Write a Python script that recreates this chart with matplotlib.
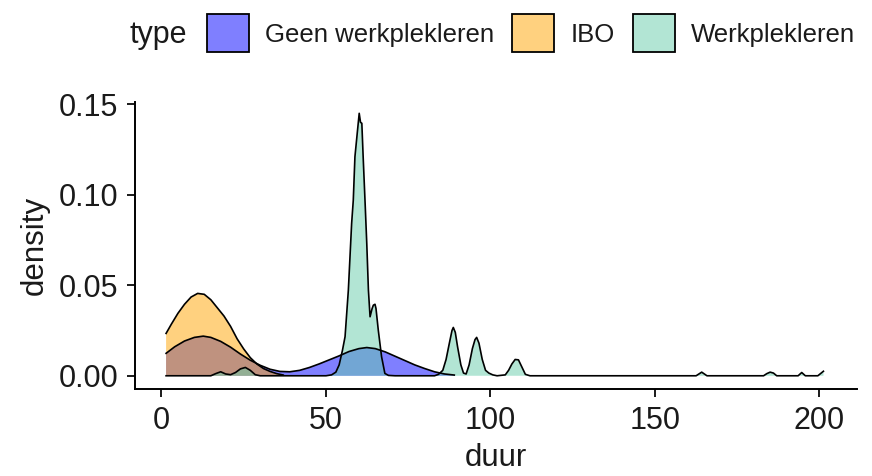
import numpy as np
import matplotlib
matplotlib.use("Agg")
import matplotlib.pyplot as plt
from matplotlib.patches import Patch

plt.rcParams['font.family'] = ['Liberation Sans', 'DejaVu Sans']

# Density curves (duur, density)
types = ['Geen werkplekleren', 'IBO', 'Werkplekleren']
fills = ['#0000FF', '#FFA500', '#66CDAA']

geen_x = [1.4, 4, 7, 10, 12.7, 15, 18, 21, 24, 27, 30, 33, 36, 39, 42, 45, 48,
          51, 54, 57, 60, 62.4, 65, 68, 71, 74, 77, 80, 83, 86, 89]
geen_y = [0.0124, 0.0160, 0.0192, 0.0212, 0.0219, 0.0212, 0.0190, 0.0158,
          0.0120, 0.0086, 0.0058, 0.0036, 0.0024, 0.0022, 0.0030, 0.0046,
          0.0066, 0.0088, 0.0110, 0.0134, 0.0150, 0.0156, 0.0150, 0.0132,
          0.0108, 0.0084, 0.0060, 0.0040, 0.0022, 0.0010, 0.0004]

ibo_x = [1.4, 3, 5, 7, 9, 11, 13, 15, 17, 19, 21, 23, 25, 27, 29, 31, 33, 35, 37]
ibo_y = [0.0234, 0.0285, 0.0345, 0.0395, 0.0435, 0.0455, 0.0450, 0.0420,
         0.0375, 0.0330, 0.0273, 0.0204, 0.0148, 0.0100, 0.0065, 0.0040,
         0.0024, 0.0012, 0.0004]

wpl_x = [1.4, 15, 16.5, 18, 19.5, 21, 22.5, 24, 25.5, 27, 28.5, 30,
         50, 51.7, 53, 54, 55, 55.8, 56.8, 57.8, 58.3, 58.8, 59.5, 60.1, 60.5,
         60.9, 61.3, 61.9, 62.4, 62.9, 63.4, 64.0, 64.4, 64.9, 65.2, 65.9, 66.9,
         67.9, 69, 71,
         83, 84.2, 85.5, 86.5, 87.5, 88.3, 88.7, 89.3, 90, 91, 91.8, 92.6, 93.5,
         94.5, 95.3, 95.8, 96.5, 97.5, 98.5, 99.5, 100.7, 102,
         104.5, 105.5, 106.5, 107.5, 108.5, 109.5, 110.6, 112,
         162.5, 164.2, 165.8, 183, 184, 185, 186, 187, 193.5, 194.6, 195.7,
         199.5, 201.2]
wpl_y = [0, 0, 0.0012, 0.0022, 0.0010, 0.0006, 0.0018, 0.0038, 0.0046, 0.0030,
         0.0006, 0,
         0, 0.0005, 0.0020, 0.0060, 0.0140, 0.0216, 0.0473, 0.0842, 0.0970,
         0.1210, 0.1340, 0.1450, 0.1400, 0.1395, 0.1210, 0.0952, 0.0731,
         0.0473, 0.0326, 0.0370, 0.0390, 0.0395, 0.0372, 0.0252, 0.0105,
         0.0013, 0.0002, 0,
         0, 0.0008, 0.0030, 0.0090, 0.0180, 0.0250, 0.0267, 0.0240, 0.0160,
         0.0060, 0.0015, 0.0010, 0.0060, 0.0150, 0.0200, 0.0212, 0.0180,
         0.0090, 0.0030, 0.0015, 0.0005, 0,
         0.0005, 0.0030, 0.0065, 0.0090, 0.0088, 0.0050, 0.0008, 0,
         0, 0.0020, 0, 0, 0.0012, 0.0020, 0.0015, 0, 0, 0.0018, 0,
         0, 0.0025]

curves = [(geen_x, geen_y), (ibo_x, ibo_y), (wpl_x, wpl_y)]

xticks = [0, 50, 100, 150, 200]
yticks = [0.00, 0.05, 0.10, 0.15]

txtcol = '#1a1a1a'

fig = plt.figure(figsize=(8.72, 4.76), dpi=100)
ax = fig.add_axes([0.1548, 0.1828, 0.828, 0.6035])

for (x, y), c in zip(curves, fills):
    ax.fill_between(x, y, 0, facecolor=matplotlib.colors.to_rgba(c, 0.5),
                    edgecolor='none')
    ax.plot(x, y, color='black', lw=1.2)

ax.set_xlim(-8.05, 211.4)
ax.set_ylim(-0.0073, 0.1514)
ax.set_xticks(xticks)
ax.set_xticklabels([str(t) for t in xticks])
ax.set_yticks(yticks)
ax.set_yticklabels(['%.2f' % t for t in yticks])
for s in ['top', 'right']:
    ax.spines[s].set_visible(False)
for s in ['left', 'bottom']:
    ax.spines[s].set_linewidth(1.4)
ax.tick_params(length=6, width=1.4, pad=6, labelsize=22, colors=txtcol)
ax.set_xlabel('duur', fontsize=22.5, color=txtcol, labelpad=5)
ax.set_ylabel('density', fontsize=22.5, color=txtcol, labelpad=6)

handles = [Patch(facecolor=matplotlib.colors.to_rgba(c, 0.5), edgecolor='black',
                 lw=1.3) for c in fills]
fig.text(0.149, 0.926, 'type', fontsize=22, color=txtcol, va='center', ha='left')
fig.legend(handles, types, loc='center left', bbox_to_anchor=(0.2374, 0.930),
           ncol=3, frameon=False, fontsize=18.5, handlelength=1.63,
           handleheight=1.9, handletextpad=0.62, columnspacing=0.72,
           borderpad=0, borderaxespad=0, labelcolor=txtcol)

fig.savefig('out.png', dpi=100)
